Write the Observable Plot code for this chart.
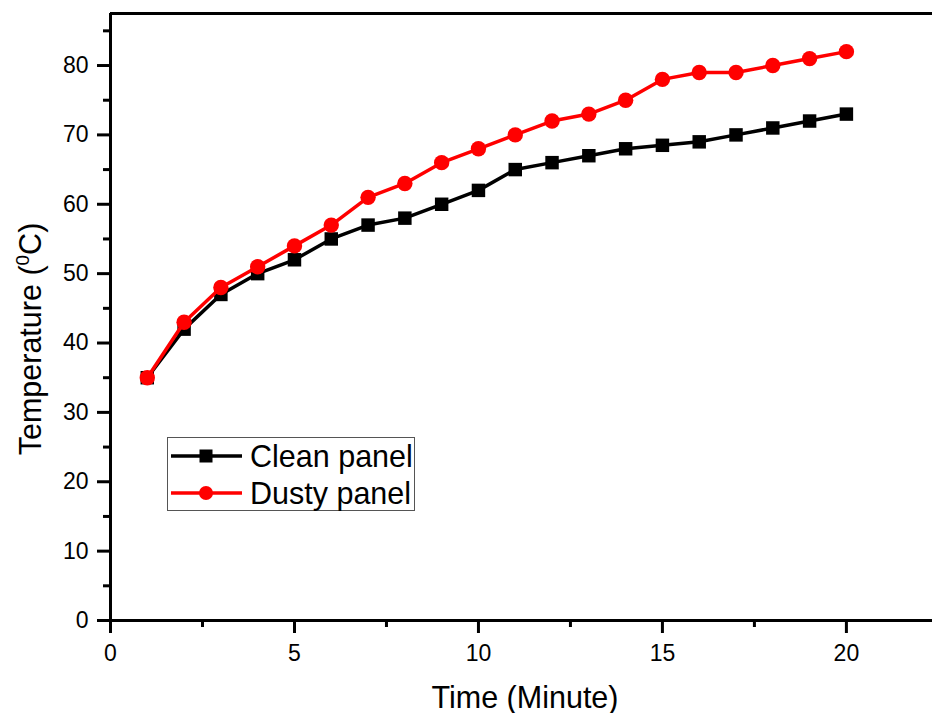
<!DOCTYPE html>
<html><head><meta charset="utf-8">
<script src="https://cdn.jsdelivr.net/npm/d3@7"></script>
<script src="https://cdn.jsdelivr.net/npm/@observablehq/plot@0.6"></script>
<style>
body{margin:0;background:#fff}
#wrap{position:relative;width:932px;height:713px}
</style>
</head><body><div id="wrap"></div>
<script>
const minutes = [1,2,3,4,5,6,7,8,9,10,11,12,13,14,15,16,17,18,19,20];
const cleanPanel = [35,42,47,50,52,55,57,58,60,62,65,66,67,68,68.5,69,70,71,72,73];
const dustyPanel = [35,43,48,51,54,57,61,63,66,68,70,72,73,75,78,79,79,80,81,82];
const seriesNames = ["Clean panel","Dusty panel"];
const seriesColors = ["#000000","#ff0000"];
const xTicks = [0,5,10,15,20];
const xMinorTicks = [2.5,7.5,12.5,17.5];
const yTicks = [0,10,20,30,40,50,60,70,80];
const yMinorTicks = [5,15,25,35,45,55,65,75,85];
const xTitle = "Time (Minute)";
const yTitleMain = "Temperature (";
const yTitleSup = "0";
const yTitleEnd = "C)";

const clean = minutes.map((m,i)=>({m, t:cleanPanel[i], s:seriesNames[0]}));
const dusty = minutes.map((m,i)=>({m, t:dustyPanel[i], s:seriesNames[1]}));

const FONT = "'Liberation Sans', Arial, sans-serif";
const plot = Plot.plot({
  width:932, height:713,
  marginLeft:110, marginRight:0, marginTop:13, marginBottom:93,
  style:{fontFamily:FONT, fontSize:"23px", background:"transparent", color:"#000"},
  x:{domain:[0,22.34], label:null},
  y:{domain:[0,87.5], label:null},
  color:{domain:seriesNames, range:seriesColors},
  marks:[
    Plot.axisX({ticks:xMinorTicks, tickSize:7, tickFormat:()=>"", strokeWidth:3, label:null}),
    Plot.axisX({ticks:xTicks, tickSize:13, tickFormat:()=>"", strokeWidth:3, label:null}),
    Plot.axisY({ticks:yMinorTicks, tickSize:7, tickFormat:()=>"", strokeWidth:3, label:null}),
    Plot.axisY({ticks:yTicks, tickSize:13, tickFormat:()=>"", strokeWidth:3, label:null}),
    Plot.text(xTicks,{x:d=>d, frameAnchor:"bottom", dy:33, text:d=>String(d), fontSize:23, lineAnchor:"middle", fill:"#000"}),
    Plot.text(yTicks,{y:d=>d, frameAnchor:"left", dx:-22, text:d=>String(d), fontSize:23, textAnchor:"end", lineAnchor:"middle", fill:"#000"}),
    Plot.ruleY([0],{strokeWidth:3}),
    Plot.ruleY([87.5],{strokeWidth:3}),
    Plot.ruleX([0],{strokeWidth:3}),
    Plot.line(clean,{x:"m", y:"t", stroke:"s", strokeWidth:3.5}),
    Plot.dot(clean,{x:"m", y:"t", fill:"s", symbol:"square", r:7.6}),
    Plot.line(dusty,{x:"m", y:"t", stroke:"s", strokeWidth:3.5}),
    Plot.dot(dusty,{x:"m", y:"t", fill:"s", symbol:"circle", r:7.7})
  ]
});
document.getElementById("wrap").appendChild(plot);

const svg = d3.select(plot);
// axis titles
svg.append("text")
  .attr("x",525).attr("y",708)
  .attr("text-anchor","middle")
  .style("font-family",FONT).style("font-size","30.5px").attr("fill","#000")
  .text(xTitle);
const yt = svg.append("text")
  .attr("transform","translate(41,339) rotate(-90)")
  .attr("text-anchor","middle")
  .style("font-family",FONT).style("font-size","30.5px").attr("fill","#000");
yt.append("tspan").text(yTitleMain);
yt.append("tspan").attr("dy","-12").style("font-size","19px").text(yTitleSup);
yt.append("tspan").attr("dy","12").text(yTitleEnd);

// legend
const lg = svg.append("g");
lg.append("rect").attr("x",167.5).attr("y",437.5).attr("width",247).attr("height",73)
  .attr("fill","#fff").attr("stroke","#555").attr("stroke-width",1);
const rowsY = [456,493];
seriesNames.forEach((name,i)=>{
  const g = lg.append("g");
  g.append("line").attr("x1",171).attr("x2",242).attr("y1",rowsY[i]).attr("y2",rowsY[i])
    .attr("stroke",seriesColors[i]).attr("stroke-width",3.5);
  if(i===0){
    g.append("rect").attr("x",206-6.5).attr("y",rowsY[i]-6.5).attr("width",13).attr("height",13).attr("fill",seriesColors[i]);
  } else {
    g.append("circle").attr("cx",206).attr("cy",rowsY[i]).attr("r",7).attr("fill",seriesColors[i]);
  }
  g.append("text").attr("x",250).attr("y",rowsY[i]+11)
    .attr("text-anchor","start")
    .style("font-family",FONT).style("font-size","30.5px").attr("fill","#000").text(name);
});
</script>
</body></html>
